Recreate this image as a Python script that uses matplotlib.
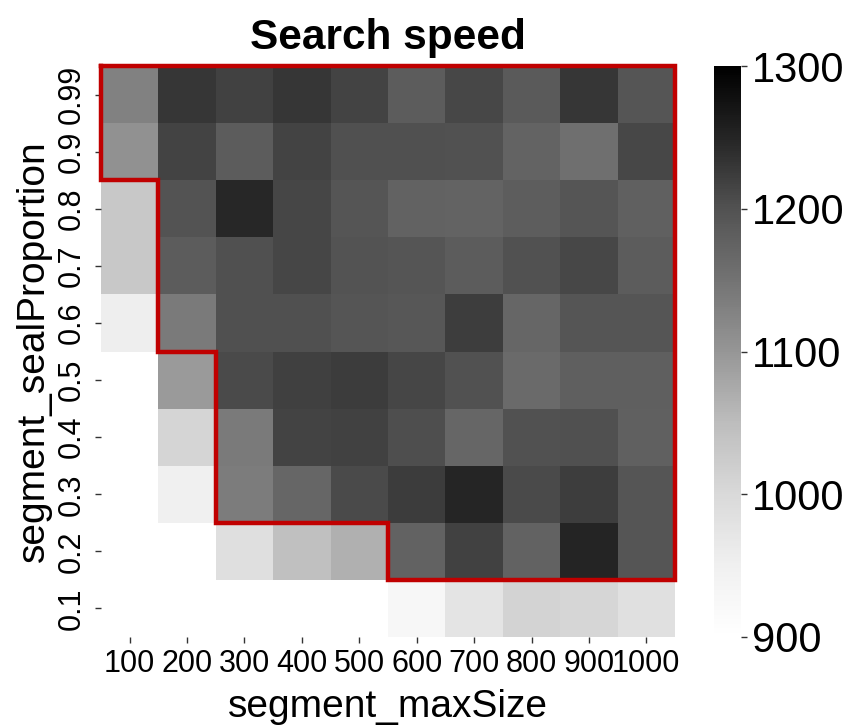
#!/usr/bin/env python3
"""
Search speed heatmap: segment_maxSize vs segment_sealProportion.
"""

import numpy as np
import matplotlib
matplotlib.use('Agg')
import matplotlib.pyplot as plt
import seaborn as sns

nan = np.nan

# columns (x) and rows (y, top to bottom)
max_sizes = [100, 200, 300, 400, 500, 600, 700, 800, 900, 1000]
seal_props = ['0.99', '0.9', '0.8', '0.7', '0.6', '0.5', '0.4', '0.3', '0.2', '0.1']

# search speed per row (nan = no run)
speed_099 = [1131, 1231, 1218, 1230, 1217, 1185, 1212, 1189, 1230, 1195]
speed_09 = [1107, 1216, 1185, 1217, 1202, 1202, 1200, 1174, 1155, 1211]
speed_08 = [1030, 1197, 1248, 1214, 1195, 1176, 1174, 1183, 1195, 1179]
speed_07 = [1030, 1185, 1202, 1214, 1197, 1195, 1185, 1200, 1212, 1185]
speed_06 = [954, 1140, 1202, 1202, 1195, 1191, 1222, 1170, 1195, 1195]
speed_05 = [nan, 1095, 1209, 1220, 1224, 1214, 1200, 1164, 1180, 1180]
speed_04 = [nan, 1007, 1140, 1216, 1218, 1204, 1170, 1200, 1202, 1179]
speed_03 = [nan, 950, 1137, 1170, 1209, 1224, 1249, 1209, 1222, 1195]
speed_02 = [nan, nan, 987, 1045, 1067, 1176, 1218, 1176, 1251, 1195]
speed_01 = [nan, nan, nan, nan, nan, 927, 976, 1012, 1005, 985]

threshold = 1100  # cells above this get outlined


def outline_path(values, thr):
    """Staircase outline around the cells above thr (top-anchored per column)."""
    mask = np.nan_to_num(values, nan=-1) > thr
    nrows, ncols = mask.shape
    depth = []
    for j in range(ncols):
        d = 0
        while d < nrows and mask[d, j]:
            d += 1
        depth.append(d)
    xs = [0, ncols, ncols]
    ys = [0, 0, depth[-1]]
    for j in range(ncols - 1, 0, -1):
        xs += [j, j]
        ys += [depth[j], depth[j - 1]]
    xs += [0, 0]
    ys += [depth[0], 0]
    return xs, ys


def main():
    plt.rcParams['font.family'] = ['Liberation Sans', 'DejaVu Sans']

    data = np.array([speed_099, speed_09, speed_08, speed_07, speed_06,
                     speed_05, speed_04, speed_03, speed_02, speed_01], dtype=float)

    fig = plt.figure(figsize=(8.48, 7.27), dpi=100)
    ax = fig.add_axes([0.1191, 0.1238, 0.6769, 0.7854])
    cax = fig.add_axes([0.842, 0.1238, 0.032, 0.7854])

    sns.heatmap(data, ax=ax, cbar_ax=cax, cmap='Greys', vmin=900, vmax=1300,
                xticklabels=max_sizes, yticklabels=seal_props)

    # red outline around the fast region
    xs, ys = outline_path(data, threshold)
    ax.plot(xs, ys, color='#c00000', linewidth=3.2, clip_on=False,
            solid_joinstyle='miter', zorder=5)

    ax.set_title('Search speed', fontsize=30.5, fontweight='bold', pad=12)
    ax.set_xlabel('segment_maxSize', fontsize=28, labelpad=7)
    ax.set_ylabel('segment_sealProportion', fontsize=28, labelpad=3)

    ax.tick_params(axis='x', labelsize=22, length=4.5, width=1, color='#333333',
                   pad=4.5, labelrotation=0)
    ax.tick_params(axis='y', labelsize=22, length=4.5, width=1, color='#333333',
                   pad=6, labelrotation=90)
    for lbl in ax.get_yticklabels():
        lbl.set_va('center')

    cax.tick_params(labelsize=30, length=4.5, width=1, color='#333333', pad=3)
    cax.set_yticks([900, 1000, 1100, 1200, 1300])
    for s in cax.spines.values():
        s.set_visible(False)

    plt.savefig('out.png', dpi=100)
    plt.close()


if __name__ == "__main__":
    main()
